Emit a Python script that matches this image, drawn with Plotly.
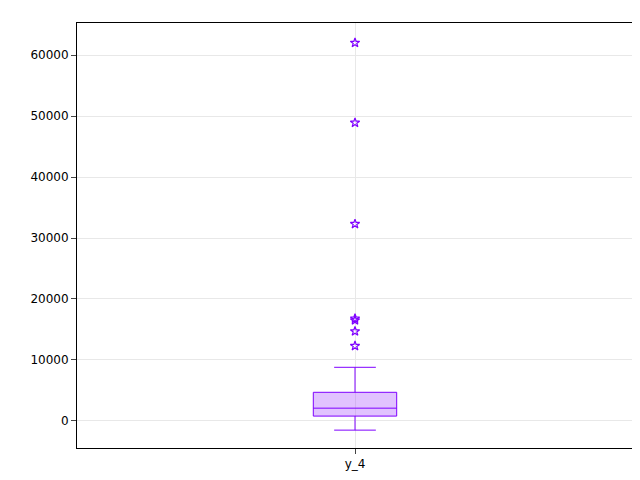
import plotly.graph_objects as go

name = "y_4"
q1 = [800]
median = [2100]
q3 = [4700]
lower = [-1500]
upper = [8800]
outliers = [12300, 14700, 16500, 16800, 32300, 48900, 62000]
yticks = list(range(0, 60001, 10000))

fig = go.Figure()
fig.add_trace(go.Box(
    x=[0], q1=q1, median=median, q3=q3, lowerfence=lower, upperfence=upper,
    width=0.15, whiskerwidth=0.5, boxpoints=False,
    line=dict(color="#7f00ff", width=1), fillcolor="rgba(170,80,255,0.35)",
))
fig.add_trace(go.Scatter(
    x=[0] * len(outliers), y=outliers, mode="markers",
    marker=dict(symbol="star-open", size=7, color="#7f00ff", line=dict(width=1.2)),
))

axis = dict(showline=True, linecolor="black", mirror=True, ticks="outside",
            gridcolor="#e8e8e8", zeroline=False, automargin=False,
            tickfont=dict(color="black", size=12))
fig.update_layout(
    width=640, height=480, showlegend=False,
    plot_bgcolor="white", paper_bgcolor="white",
    margin=dict(l=69, r=15, t=15, b=40),
    font=dict(family="DejaVu Sans"),
)
fig.update_xaxes(**axis, range=[-0.5, 0.5], tickvals=[0], ticktext=[name])
fig.update_yaxes(**axis, range=[-4430, 65250], tickvals=yticks,
                 ticktext=[str(v) for v in yticks])
fig.write_html("out.html")
